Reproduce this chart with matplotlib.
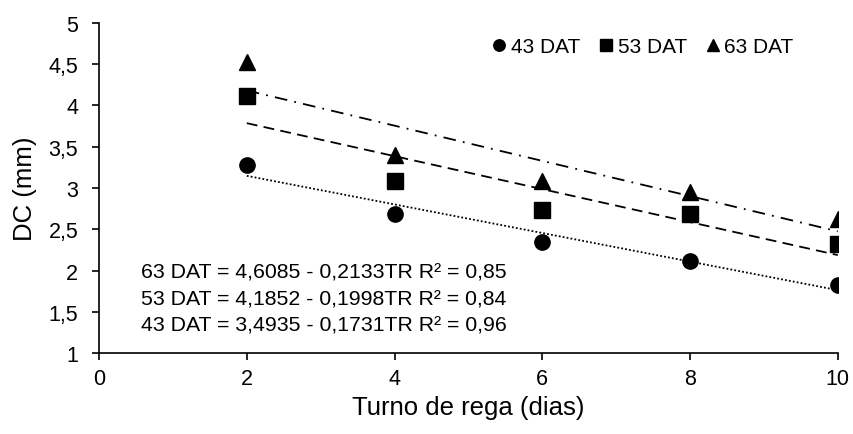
import matplotlib

matplotlib.use("Agg")
import matplotlib.pyplot as plt
import numpy as np

plt.rcParams["font.family"] = ["Liberation Sans", "DejaVu Sans"]

# Irrigation interval (days) and stem diameter per evaluation date
turno = [2, 4, 6, 8, 10]
dc_43 = [3.28, 2.68, 2.35, 2.12, 1.82]
dc_53 = [4.12, 3.08, 2.73, 2.68, 2.32]
dc_63 = [4.53, 3.40, 3.09, 2.95, 2.62]

# Linear fits: intercept, slope, R²
fit_43 = (3.4935, -0.1731, 0.96)
fit_53 = (4.1852, -0.1998, 0.84)
fit_63 = (4.6085, -0.2133, 0.85)

series = [
    ("43 DAT", dc_43, fit_43, "o", (0, (1, 1.2))),
    ("53 DAT", dc_53, fit_53, "s", (0, (6, 3.5))),
    ("63 DAT", dc_63, fit_63, "^", (0, (7, 4, 1, 4))),
]

fig = plt.figure(figsize=(8.54, 4.35), dpi=100)
ax = fig.add_axes([0.116, 0.186, 0.865, 0.759])

x = np.array(turno, dtype=float)
for label, y, (a, b, r2), marker, ls in series:
    ax.plot(x, a + b * x, color="black", linestyle=ls, linewidth=1.3, zorder=2)
    ax.plot(x, y, linestyle="none", marker=marker, color="black",
            markersize=11, label=label, zorder=3)

ax.set_xlim(0, 10)
ax.set_ylim(1, 5)
ax.set_xticks(range(0, 11, 2))
yt = np.arange(1, 5.01, 0.5)
ax.set_yticks(yt)
ax.set_yticklabels([f"{v:g}".replace(".", ",") for v in yt])
ax.tick_params(labelsize=15.5, length=5, width=1.2)
ax.tick_params(axis="y", pad=10)
ax.tick_params(axis="x", pad=6)
for side in ("top", "right"):
    ax.spines[side].set_visible(False)
for side in ("left", "bottom"):
    ax.spines[side].set_linewidth(1.2)

ax.set_xlabel("Turno de rega (dias)", fontsize=18.5, labelpad=4)
ax.set_ylabel("DC (mm)", fontsize=18.5, labelpad=8)

def fmt(v):
    return f"{v:.4f}".replace(".", ",")

eq_y = [1.34, 1.66, 1.98]
for (label, y, (a, b, r2), marker, ls), ty in zip(series, eq_y):
    txt = f"{label} = {fmt(a)} - {fmt(-b)}TR R² = {f'{r2:.2f}'.replace('.', ',')}"
    ax.text(0.57, ty, txt, fontsize=15.3, ha="left", va="center")

ax.legend(loc="upper right", bbox_to_anchor=(0.957, 0.995), ncol=3, frameon=False,
          fontsize=15, handletextpad=0.0, columnspacing=0.7, handlelength=1.1,
          markerscale=0.75, borderaxespad=0.2)

fig.savefig("out.png", dpi=100)
